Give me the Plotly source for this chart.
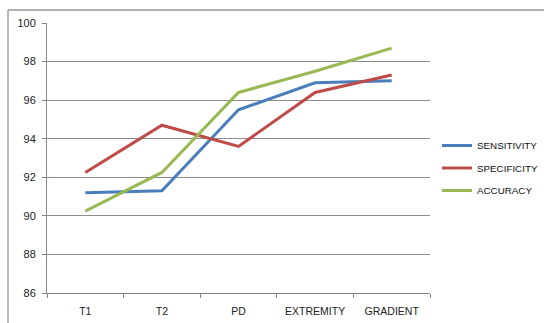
import plotly.graph_objects as go

# Classification stages and the three performance measures (%)
stages = ["T1", "T2", "PD", "EXTREMITY", "GRADIENT"]
sensitivity = [91.2, 91.3, 95.5, 96.9, 97.0]
specificity = [92.25, 94.7, 93.6, 96.4, 97.3]
accuracy = [90.25, 92.25, 96.4, 97.5, 98.7]

y_ticks = [86, 88, 90, 92, 94, 96, 98, 100]

series = [
    ("SENSITIVITY", sensitivity, "#4A7EBB"),
    ("SPECIFICITY", specificity, "#BE4B48"),
    ("ACCURACY", accuracy, "#98B954"),
]

W, H = 544, 323
L, R, T, B = 47, 114, 23, 30

fig = go.Figure()
for i, (name, vals, color) in enumerate(series):
    fig.add_trace(go.Scatter(
        x=stages, y=vals, name=name, mode="lines",
        line=dict(color=color, width=3),
        legendgroup=f"g{i}",
    ))

pw = W - L - R
ph = H - T - B

# chart-area frame: only its top and left edges fall inside the page
fx0, fx1 = (8 - L) / pw, (W + 5 - L) / pw
fy_top, fy_bot = (H - B - 10) / ph, (H - B - H - 5) / ph
frame_line = dict(color="#b2b2b2", width=1.8)

fig.update_layout(
    width=W, height=H,
    margin=dict(l=L, r=R, t=T, b=B, autoexpand=False),
    paper_bgcolor="white", plot_bgcolor="white",
    font=dict(family="Liberation Sans, Arial, sans-serif", size=11, color="#222"),
    showlegend=True,
    legend=dict(
        x=(437 - L) / pw, y=(H - B - 131) / ph, xanchor="left", yanchor="top",
        font=dict(size=9.8, color="#111"),
        itemwidth=30, tracegroupgap=3.5, traceorder="grouped",
        bgcolor="rgba(0,0,0,0)",
    ),
    xaxis=dict(
        type="category", range=[-0.5, 4.5], automargin=False,
        showline=True, linecolor="#868686", linewidth=1,
        ticks="outside", tickson="boundaries", ticklen=4, tickcolor="#868686",
        showgrid=False, zeroline=False,
        tickfont=dict(size=10.5),
        ticklabelstandoff=8,
    ),
    yaxis=dict(
        range=[86, 100], tickvals=y_ticks, automargin=False,
        showline=True, linecolor="#868686", linewidth=1,
        ticks="outside", ticklen=4, tickcolor="#868686",
        showgrid=True, gridcolor="#8c8c8c", gridwidth=1,
        zeroline=False, tickfont=dict(size=11),
        ticklabelstandoff=4,
    ),
    shapes=[
        dict(type="line", xref="paper", yref="paper",
             x0=fx0, x1=fx1, y0=fy_top, y1=fy_top, line=frame_line, layer="below"),
        dict(type="line", xref="paper", yref="paper",
             x0=fx0, x1=fx0, y0=fy_top, y1=fy_bot, line=frame_line, layer="below"),
    ],
)

fig.write_html("out.html")
